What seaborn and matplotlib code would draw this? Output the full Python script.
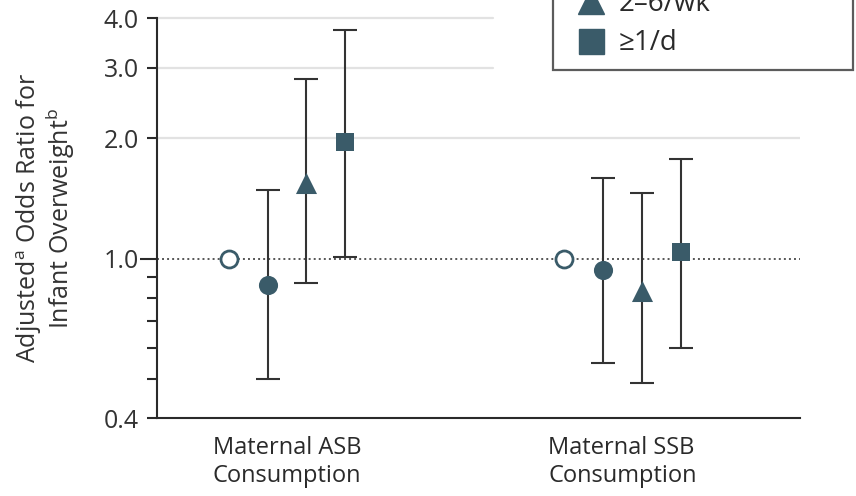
import numpy as np
import pandas as pd
import matplotlib
matplotlib.use("Agg")
import matplotlib.pyplot as plt
import seaborn as sns
from matplotlib.lines import Line2D
from matplotlib.ticker import FixedLocator, NullFormatter

# ---- data -------------------------------------------------------------
groups = ["Maternal ASB\nConsumption", "Maternal SSB\nConsumption"]
levels = ["None", "<1/wk", "2–6/wk", "≥1/d"]

asb_or = [1.00, 0.86, 1.55, 1.96]
asb_lo = [np.nan, 0.50, 0.87, 1.01]
asb_hi = [np.nan, 1.49, 2.82, 3.73]

ssb_or = [1.00, 0.94, 0.83, 1.04]
ssb_lo = [np.nan, 0.55, 0.49, 0.60]
ssb_hi = [np.nan, 1.59, 1.46, 1.78]

ytick_vals = [0.4, 1.0, 2.0, 3.0, 4.0]
ytick_labels = ["0.4", "1.0", "2.0", "3.0", "4.0"]
yminor_vals = [0.5, 0.6, 0.7, 0.8, 0.9]

# ---- styling ----------------------------------------------------------
TEAL = "#3a5b69"
INK = "#2a2a2a"
DODGE = 0.1153

sns.set_style("ticks")
plt.rcParams["font.family"] = ["Open Sans", "DejaVu Sans"]
plt.rcParams["mathtext.fontset"] = "custom"
plt.rcParams["mathtext.rm"] = "Open Sans"
plt.rcParams["mathtext.it"] = "Open Sans:italic"
plt.rcParams["mathtext.bf"] = "Open Sans:bold"

rows = []
for gi, (g, ors, los, his) in enumerate(
    [(groups[0], asb_or, asb_lo, asb_hi), (groups[1], ssb_or, ssb_lo, ssb_hi)]
):
    for li, lev in enumerate(levels):
        rows.append(dict(group=g, gidx=gi, level=lev, lidx=li,
                         odds=ors[li], lo=los[li], hi=his[li]))
df = pd.DataFrame(rows)
df["x"] = df["gidx"] + (df["lidx"] - 1.5) * DODGE

fig = plt.figure(figsize=(8.56, 4.96), dpi=100)
ax = fig.add_axes([157 / 856, 1 - 418 / 496, 643 / 856, 400 / 496])

# reference gridlines and null line
ax.axhline(2.0, color="#e2e2e2", lw=1.6, zorder=0)
for yv in (3.0, 4.0):
    ax.axhline(yv, xmax=0.5226, color="#e2e2e2", lw=1.6, zorder=0, clip_on=False)
ax.axhline(1.0, color="#555555", lw=1.4, ls=(0, (1, 1.6)), zorder=1)

# confidence intervals
ci = df.dropna(subset=["lo", "hi"])
ax.errorbar(ci["x"], ci["odds"],
            yerr=[ci["odds"] - ci["lo"], ci["hi"] - ci["odds"]],
            fmt="none", ecolor="#333333", elinewidth=1.5,
            capsize=8.6, capthick=1.5, zorder=3)

# point estimates
marker_style = {
    "None": dict(marker="o", s=150, color="white", edgecolor=TEAL, linewidth=2.0),
    "<1/wk": dict(marker="o", s=190, color=TEAL, edgecolor=TEAL, linewidth=0),
    "2–6/wk": dict(marker="^", s=230, color=TEAL, edgecolor=TEAL, linewidth=0),
    "≥1/d": dict(marker="s", s=180, color=TEAL, edgecolor=TEAL, linewidth=0),
}
for lev in levels:
    sub = df[df["level"] == lev]
    sns.scatterplot(data=sub, x="x", y="odds", ax=ax, legend=False,
                    zorder=4, **marker_style[lev])

# axes
ax.set_yscale("log")
ax.set_ylim(0.4, 4.0)
ax.set_xlim(-0.3875, 1.529)
ax.yaxis.set_major_locator(FixedLocator(ytick_vals))
ax.set_yticklabels(ytick_labels)
ax.yaxis.set_minor_locator(FixedLocator(yminor_vals))
ax.yaxis.set_minor_formatter(NullFormatter())
ax.tick_params(axis="y", which="both", length=7.2, width=1.5, color=INK,
               labelsize=18, labelcolor="#333333", pad=6)
# the null value gets a longer tick
for tk in ax.yaxis.get_major_ticks():
    if np.isclose(tk.get_loc(), 1.0):
        tk.tick1line.set_markersize(12)
ax.set_xticks([0, 1])
ax.set_xticklabels(groups, multialignment="left")
ax.tick_params(axis="x", length=0, pad=13, labelsize=17, labelcolor=INK)
ax.set_xlabel("")
ax.set_ylabel("Adjusted$^{\\mathrm{a}}$ Odds Ratio for\nInfant Overweight$^{\\mathrm{b}}$",
              fontsize=18, color="#333333", linespacing=1.0)
ax.yaxis.set_label_coords(-0.125, 0.5)

for side in ("top", "right"):
    ax.spines[side].set_visible(False)
for side in ("left", "bottom"):
    ax.spines[side].set_linewidth(1.5)
    ax.spines[side].set_color(INK)

# legend (upper rows run off the top edge of the canvas)
handles = [
    Line2D([], [], ls="none", marker="^", markersize=19, color=TEAL),
    Line2D([], [], ls="none", marker="s", markersize=18, color=TEAL),
]
leg = fig.legend(handles, levels[2:], loc="lower left",
                 bbox_to_anchor=(553 / 856, 1 - 70 / 496, 300 / 856, 0.2),
                 mode="expand", frameon=True, fancybox=False, fontsize=20,
                 borderaxespad=0, borderpad=0.45, handlelength=1.8,
                 handletextpad=0.1, labelspacing=0.43, labelcolor=INK)
leg.get_frame().set_edgecolor("#333333")
leg.get_frame().set_linewidth(1.6)

fig.savefig("out.png", dpi=100)
